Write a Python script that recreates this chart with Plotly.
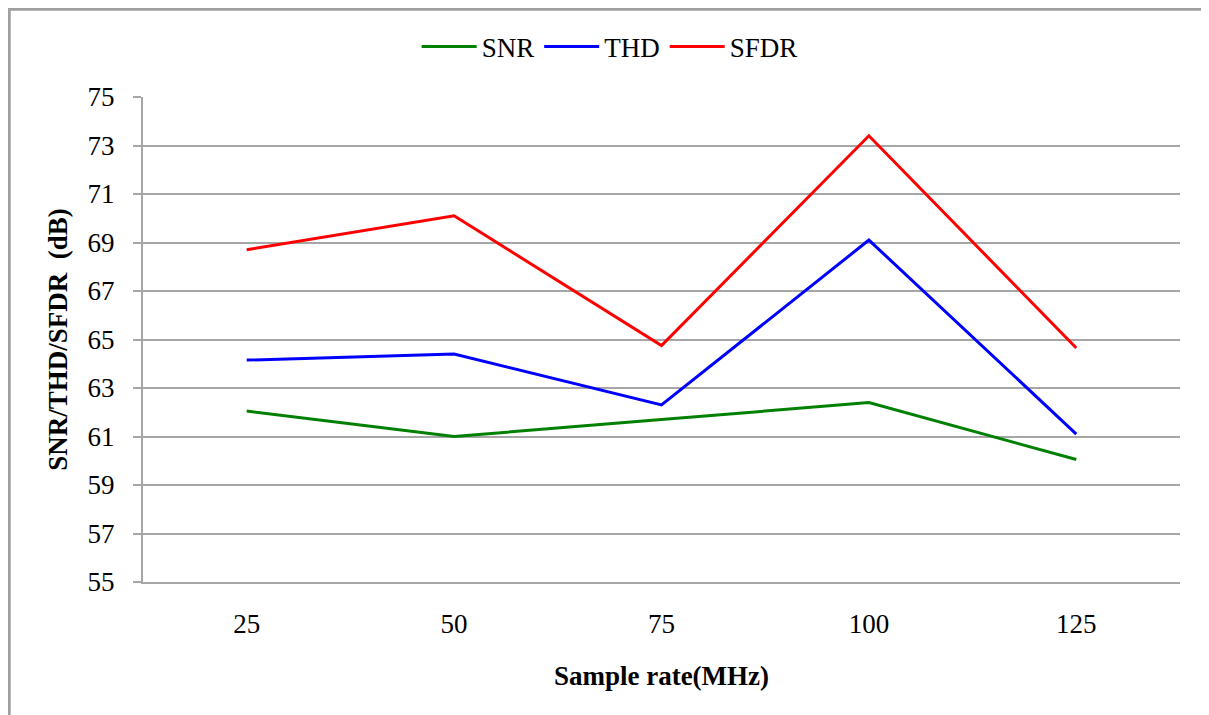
import plotly.graph_objects as go

rates = ["25", "50", "75", "100", "125"]
snr = [62.05, 61.0, 61.7, 62.4, 60.05]
thd = [64.15, 64.4, 62.3, 69.1, 61.1]
sfdr = [68.7, 70.1, 64.75, 73.4, 64.65]

SERIES = [("SNR", snr, "#008000"), ("THD", thd, "#0000ff"), ("SFDR", sfdr, "#ff0000")]
FONT = "Liberation Serif"
GRID = "#a6a6a6"

fig = go.Figure()
for name, ys, col in SERIES:
    fig.add_trace(go.Scatter(x=rates, y=ys, name=name, mode="lines",
                             line=dict(color=col, width=3)))

# page body has an 8px margin, so the figure is 8px smaller than the window
fig.update_layout(
    width=1201, height=707,
    margin=dict(l=135, r=29, t=89, b=133),
    paper_bgcolor="white", plot_bgcolor="white",
    font=dict(family=FONT, size=27, color="black"),
    legend=dict(orientation="h", x=0.45, y=1.103, xanchor="center", yanchor="middle",
                font=dict(size=27), itemwidth=55, bgcolor="rgba(0,0,0,0)"),
    shapes=[dict(type="rect", xref="paper", yref="paper",
                 x0=-0.129, x1=1.025, y0=-0.29, y1=1.181,
                 line=dict(color="#a0a0a0", width=3))],
)
fig.update_xaxes(type="category", range=[-0.5, 4.5], showgrid=False,
                 showline=True, linecolor=GRID, linewidth=2, ticks="",
                 ticklabelstandoff=17, tickfont=dict(size=27),
                 title=dict(text="<b>Sample rate(MHz)</b>", font=dict(size=27), standoff=28))
fig.update_yaxes(range=[55, 75], dtick=2, tick0=55, showgrid=True, gridcolor=GRID, gridwidth=2,
                 showline=True, linecolor=GRID, linewidth=2, ticks="outside", ticklen=8,
                 tickcolor=GRID, tickwidth=2, ticklabelstandoff=13, zeroline=False,
                 tickfont=dict(size=27),
                 title=dict(text="<b>SNR/THD/SFDR  (dB)</b>", font=dict(size=27), standoff=12))

fig.write_html("out.html")
